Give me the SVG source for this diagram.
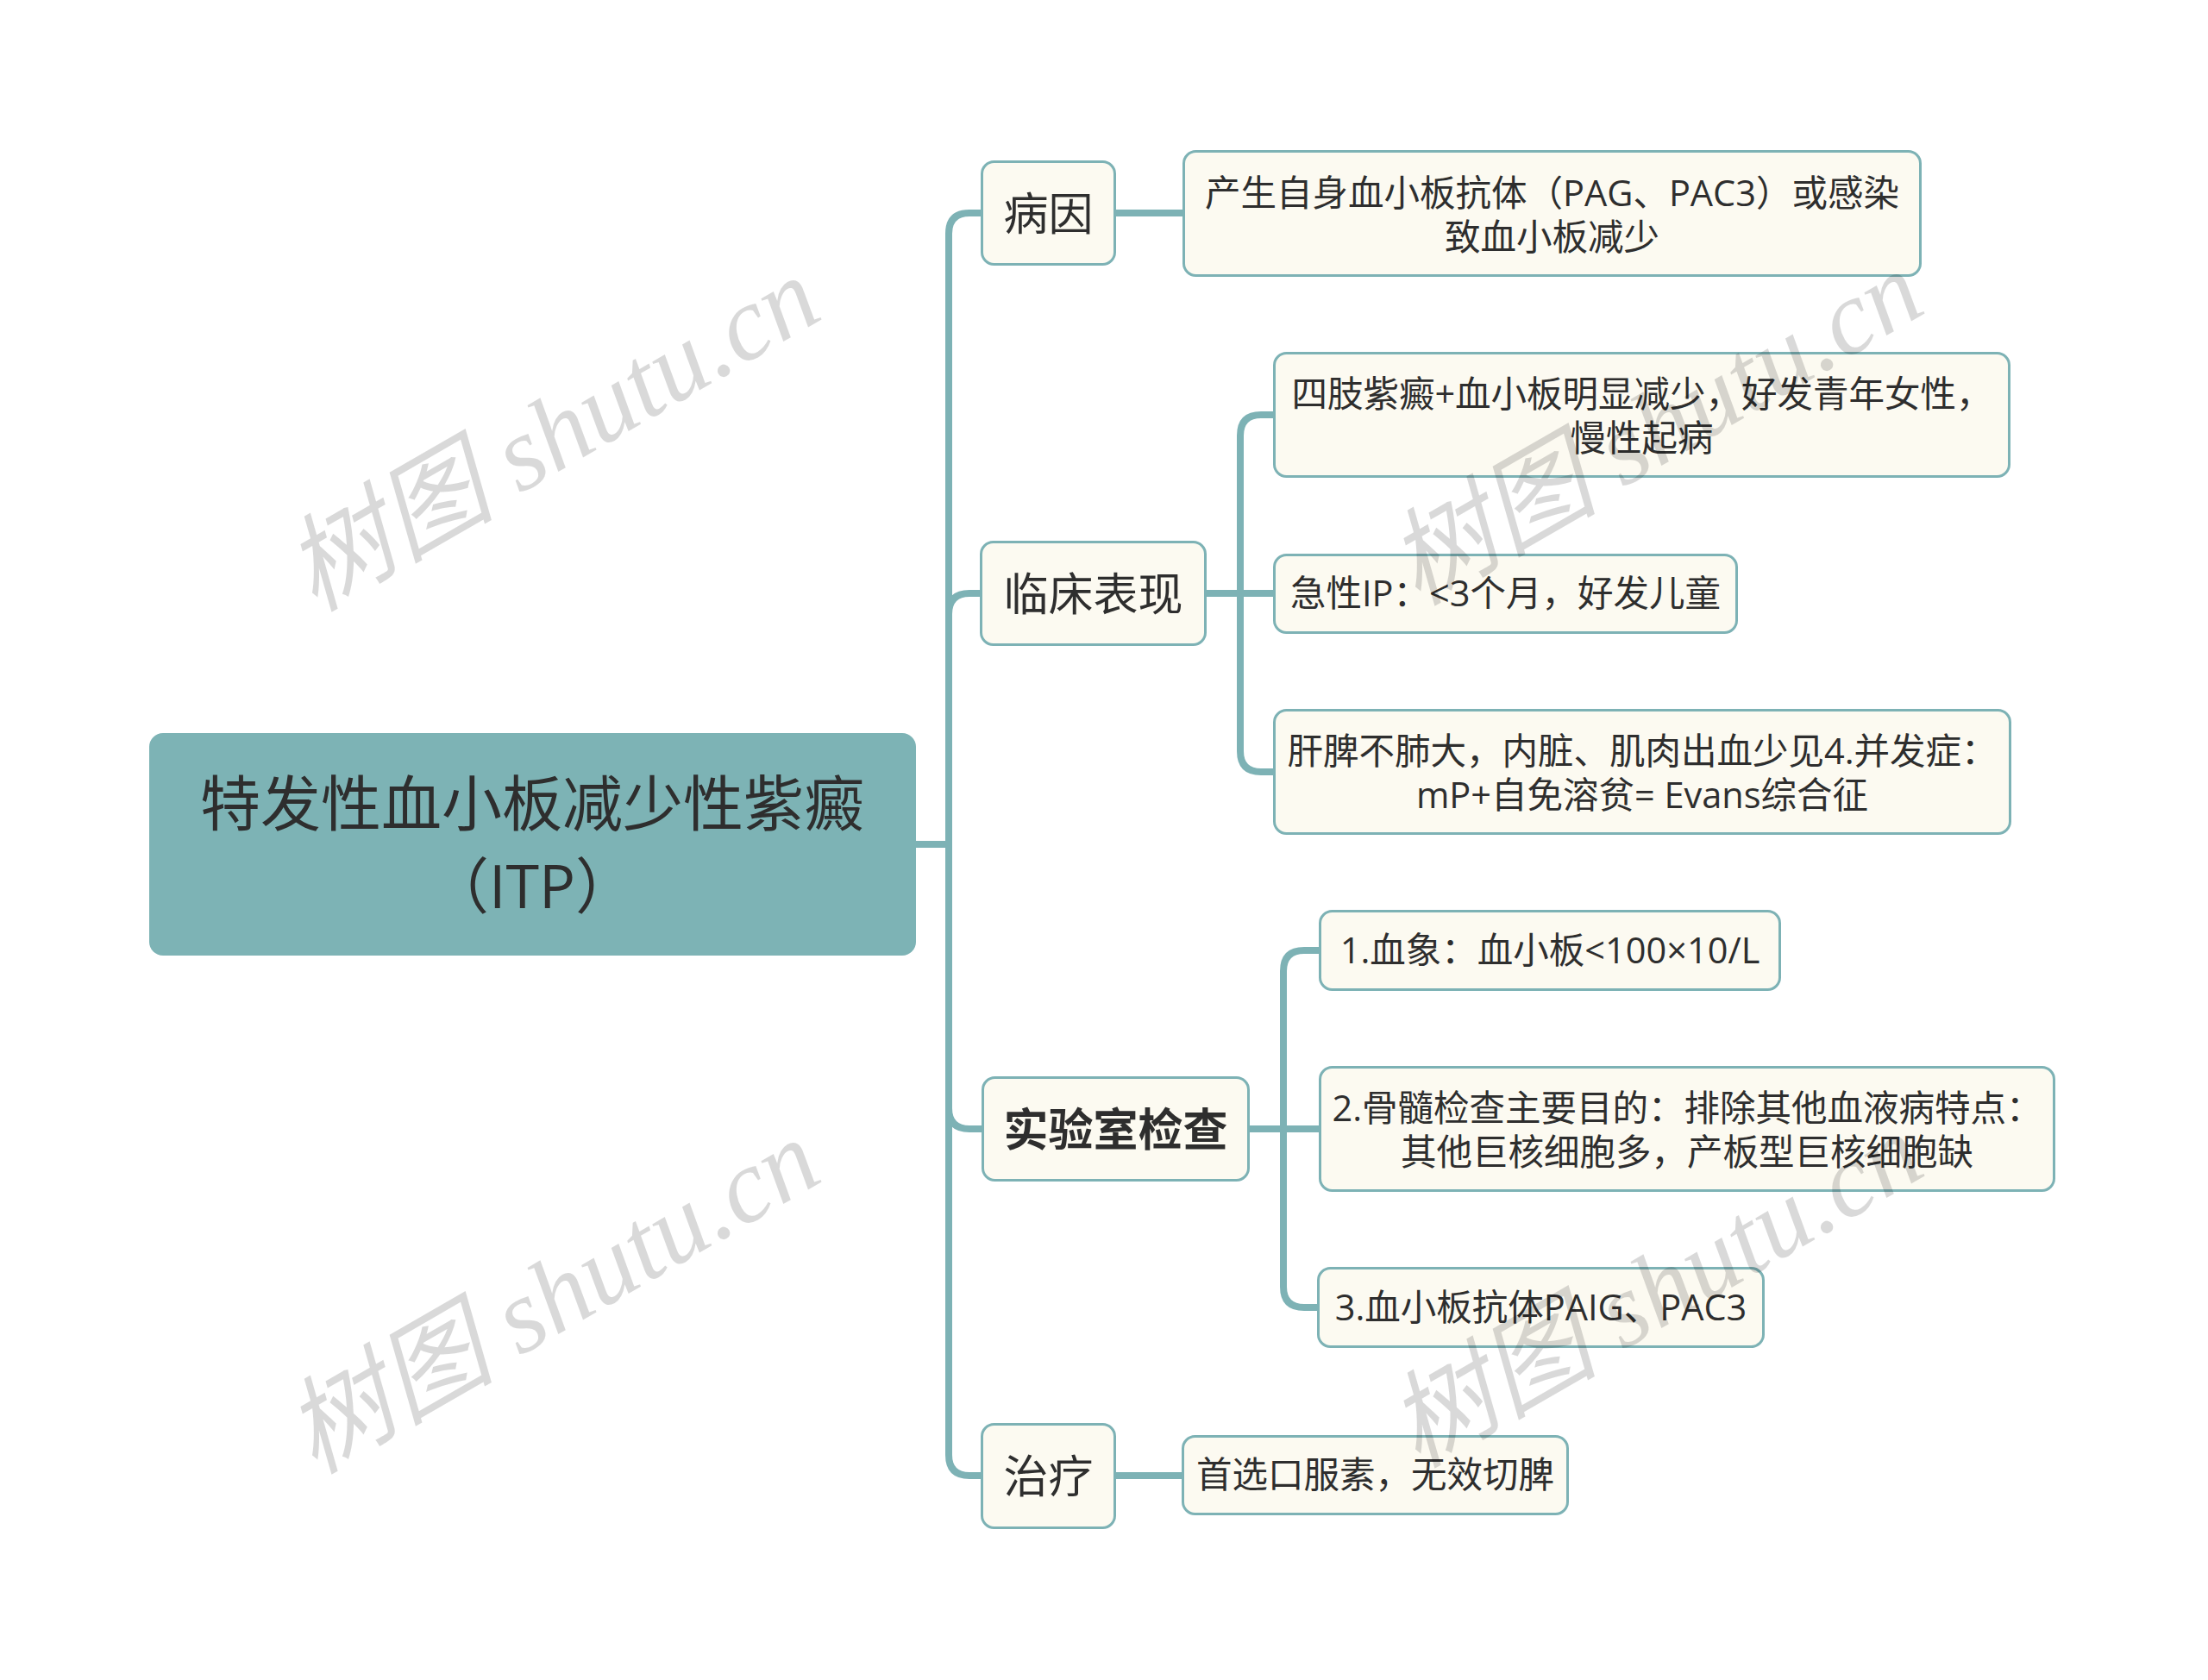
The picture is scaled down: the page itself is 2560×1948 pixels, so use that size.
<svg xmlns="http://www.w3.org/2000/svg" width="2560" height="1948" viewBox="0 0 2560 1948">
<style>
.bg{fill:#ffffff}
.root{fill:#7db3b5}
.node{fill:#fcfaf1;stroke:#7db2b5;stroke-width:3}
.conn{fill:none;stroke:#7db2b5;stroke-width:8}
.t{font-family:"Open Sans","Noto Sans CJK SC",sans-serif;fill:#2e2e2e;text-anchor:middle}
.t0{font-size:70px}
.t1{font-size:52px}
.t1b{font-size:52px;font-weight:bold}
.t2{font-size:41.5px}
.wm{font-family:"Liberation Serif","Noto Sans CJK SC",serif;font-style:italic;font-size:122px;fill:#000;fill-opacity:0.15;text-anchor:middle}
</style>
<rect class="bg" x="0" y="0" width="2560" height="1948"/>
<g id="connectors">
<path class="conn" d="M1062 979 H1100 V271 Q1100 247 1124 247 H1137"/>
<path class="conn" d="M1062 979 H1100 V712 Q1100 688 1124 688 H1136"/>
<path class="conn" d="M1062 979 H1100 V1285 Q1100 1309 1124 1309 H1138"/>
<path class="conn" d="M1062 979 H1100 V1687 Q1100 1711 1124 1711 H1137"/>
<path class="conn" d="M1294 247 H1371"/>
<path class="conn" d="M1399 688 H1438 V505 Q1438 481 1462 481 H1476"/>
<path class="conn" d="M1399 688 H1476"/>
<path class="conn" d="M1399 688 H1438 V871 Q1438 895 1462 895 H1476"/>
<path class="conn" d="M1449 1309 H1488 V1126 Q1488 1102 1512 1102 H1529"/>
<path class="conn" d="M1449 1309 H1529"/>
<path class="conn" d="M1449 1309 H1488 V1492 Q1488 1516 1512 1516 H1527"/>
<path class="conn" d="M1294 1711 H1370"/>
</g>
<g id="root">
<rect class="root" x="173" y="850" width="889" height="258" rx="16"/>
<text class="t t0" x="617" y="958">特发性血小板减少性紫癜</text>
<text class="t t0" x="617" y="1053">（ITP）</text>
</g>
<g id="n-bingyin">
<rect class="node" x="1138.5" y="187.5" width="154" height="119" rx="14"/>
<text class="t t1" x="1215.5" y="267">病因</text>
</g>
<g id="n-bingyin-1">
<rect class="node" x="1372.5" y="175.5" width="854" height="144" rx="14"/>
<text class="t t2" x="1799.5" y="239">产生自身血小板抗体（PAG、PAC3）或感染</text>
<text class="t t2" x="1799.5" y="290">致血小板减少</text>
</g>
<g id="n-linchuang">
<rect class="node" x="1137.5" y="628.5" width="260" height="119" rx="14"/>
<text class="t t1" x="1267.5" y="708">临床表现</text>
</g>
<g id="n-linchuang-1">
<rect class="node" x="1477.5" y="409.5" width="852" height="143" rx="14"/>
<text class="t t2" x="1903.5" y="472">四肢紫癜+血小板明显减少，好发青年女性，</text>
<text class="t t2" x="1903.5" y="523">慢性起病</text>
</g>
<g id="n-linchuang-2">
<rect class="node" x="1477.5" y="643.5" width="536" height="90" rx="14"/>
<text class="t t2" x="1745.5" y="703">急性IP：&lt;3个月，好发儿童</text>
</g>
<g id="n-linchuang-3">
<rect class="node" x="1477.5" y="823.5" width="853" height="143" rx="14"/>
<text class="t t2" x="1904" y="886">肝脾不肺大，内脏、肌肉出血少见4.并发症：</text>
<text class="t t2" x="1904" y="937">mP+自免溶贫= Evans综合征</text>
</g>
<g id="n-shiyan">
<rect class="node" x="1139.5" y="1249.5" width="308" height="119" rx="14"/>
<text class="t t1b" x="1293.5" y="1329">实验室检查</text>
</g>
<g id="n-shiyan-1">
<rect class="node" x="1530.5" y="1056.5" width="533" height="91" rx="14"/>
<text class="t t2" x="1797" y="1117">1.血象：血小板&lt;100×10/L</text>
</g>
<g id="n-shiyan-2">
<rect class="node" x="1530.5" y="1237.5" width="851" height="143" rx="14"/>
<text class="t t2" x="1956" y="1300">2.骨髓检查主要目的：排除其他血液病特点：</text>
<text class="t t2" x="1956" y="1351">其他巨核细胞多，产板型巨核细胞缺</text>
</g>
<g id="n-shiyan-3">
<rect class="node" x="1528.5" y="1470.5" width="516" height="91" rx="14"/>
<text class="t t2" x="1786.5" y="1531">3.血小板抗体PAIG、PAC3</text>
</g>
<g id="n-zhiliao">
<rect class="node" x="1138.5" y="1651.5" width="154" height="120" rx="14"/>
<text class="t t1" x="1215.5" y="1731">治疗</text>
</g>
<g id="n-zhiliao-1">
<rect class="node" x="1371.5" y="1665.5" width="446" height="90" rx="14"/>
<text class="t t2" x="1594.5" y="1725">首选口服素，无效切脾</text>
</g>
<g id="watermarks">
<text class="wm" transform="translate(661 539) rotate(-30)">树图 shutu.cn</text>
<text class="wm" transform="translate(1940 532) rotate(-30)">树图 shutu.cn</text>
<text class="wm" transform="translate(661 1539) rotate(-30)">树图 shutu.cn</text>
<text class="wm" transform="translate(1940 1532) rotate(-30)">树图 shutu.cn</text>
</g>
</svg>
